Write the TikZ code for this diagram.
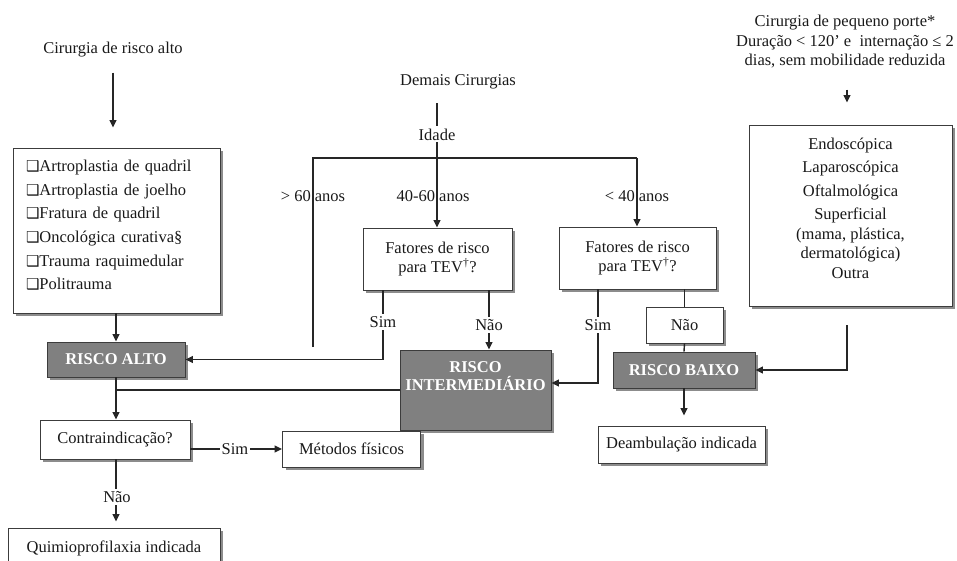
\documentclass[tikz,border=0pt]{standalone}
\usepackage{fontspec}
\setmainfont{Liberation Serif}
\newfontfamily\symfont{DejaVu Sans}
\usetikzlibrary{arrows.meta,shadows}
\definecolor{riskgray}{HTML}{808080}
\definecolor{edgegray}{HTML}{3C3C3C}
\newcommand{\cb}{{\symfont\fontsize{15}{15}\selectfont ❑}}

\begin{document}
\begin{tikzpicture}[x=1pt, y=-1pt,
  txt/.style={font=\fontsize{16.5}{19.5}\selectfont, text=black!90, inner sep=1pt},
  box/.style={draw=edgegray, line width=0.9pt, fill=white, inner sep=2pt,
              font=\fontsize{16.5}{19.5}\selectfont, text=black!90, align=center,
              drop shadow={shadow xshift=3pt, shadow yshift=-3pt, fill=black!45, opacity=1}},
  riskbox/.style={box, fill=riskgray, text=white, font=\fontsize{16.5}{18}\selectfont\bfseries},
  lbl/.style={txt, fill=white, inner sep=2pt},
  ln/.style={line width=1.4pt, draw=black!85},
  arr/.style={ln, -{Triangle[length=7.5pt, width=7pt]}},
]
\useasboundingbox (0,0) rectangle (957,561);
\clip (0,0) rectangle (957,561);

% titles
\node[txt] (alto) at (113,50) {Cirurgia de risco alto};
\node[txt] (demais) at (458,82) {Demais Cirurgias};
\node[txt] (idade) at (437,135) {Idade};
\node[txt, align=center] (pequenotit) at (845,42)
  {Cirurgia de pequeno porte*\\Duração < 120’ e \ internação ≤ 2\\dias, sem mobilidade reduzida};

% boxes
\node[box, align=left, text width=181pt, inner xsep=13pt, minimum height=165pt,
      font=\fontsize{16.5}{23.6}\selectfont] (grupo) at (116.5,230.5)
  {\cb Artroplastia de quadril\\ \cb Artroplastia de joelho\\ \cb Fratura de quadril\\
   \cb Oncológica curativa§\\ \cb Trauma raquimedular\\ \cb Politrauma\\[-12.5pt]\mbox{}};
\node[box, minimum width=149pt, minimum height=62pt] (fat1) at (437.5,259)
  {Fatores de risco\\para TEV\textsuperscript{†}?};
\node[box, minimum width=157pt, minimum height=62pt] (fat2) at (637.5,258)
  {Fatores de risco\\para TEV\textsuperscript{†}?};
\node[box, minimum width=203pt, minimum height=181pt] (pequeno) at (850.5,215.5)
  {Endoscópica\\[4pt] Laparoscópica\\[4pt] Oftalmológica\\[4pt] Superficial\\
   (mama, plástica,\\ dermatológica)\\ Outra\\[-4.5pt]\mbox{}};
\node[box, minimum width=77pt, minimum height=36pt] (naobox) at (684.5,325) {Não};

\node[riskbox, minimum width=138pt, minimum height=35pt] (riscoalto) at (116,359.5) {RISCO ALTO};
\node[riskbox, minimum width=151pt, minimum height=80pt] (intermed) at (475.5,390)
  {RISCO\\INTERMEDIÁRIO\\[10pt]\mbox{}};
\node[riskbox, minimum width=142pt, minimum height=36pt] (riscobaixo) at (684,370) {RISCO BAIXO};

\node[box, minimum width=150pt, minimum height=39pt] (contra) at (115,439.5) {Contraindicação?};
\node[box, minimum width=138pt, minimum height=36pt] (metodos) at (351.5,449) {Métodos físicos};
\node[box, minimum width=212pt, minimum height=40pt] (quimio) at (114,548) {Quimioprofilaxia indicada};
\node[box, minimum width=167pt, minimum height=37pt] (deamb) at (681.5,444.5) {Deambulação indicada};

% age branches
\coordinate (barL) at (313,158);
\coordinate (barR) at (637,158);
\coordinate (gt60end) at (313,347);

\draw[arr, shorten <=14pt, shorten >=20pt] (alto.south) -- (alto.south |- grupo.north);
\draw[arr] (riscoalto.north |- grupo.south) -- (riscoalto.north);
\draw[ln, shorten <=13pt, shorten >=2pt] (idade.north |- demais.south) -- (idade.north);
\draw[arr] (idade.south) -- (idade.south |- fat1.north);
\draw[ln] (gt60end) -- (barL) -- (barR);
\draw[arr] (barR) -- (barR |- fat2.north);

\draw[arr] ([xshift=-54.5pt]fat1.south) |- (riscoalto.east);
\draw[arr] ([xshift=51.5pt]fat1.south) -- ([xshift=51.5pt]fat1.south |- intermed.north);
\draw[arr] ([xshift=-39.5pt]fat2.south) |- ([yshift=7pt]intermed.east);
\draw[ln] (naobox.north |- fat2.south) -- (naobox.north);
\draw[ln] (naobox.south) -- (riscobaixo.north);

\draw[arr, shorten <=20pt, shorten >=22pt] ([xshift=2pt]pequenotit.south) -- ([xshift=2pt]pequenotit.south |- pequeno.north);
\draw[arr, shorten <=19pt] ([xshift=-3.5pt]pequeno.south) |- (riscobaixo.east);
\draw[arr, shorten >=10pt] (riscobaixo.south) -- (riscobaixo.south |- deamb.north);

\draw[ln] (intermed.west) -- (intermed.west -| riscoalto.south);
\draw[arr] (riscoalto.south) -- (riscoalto.south |- contra.north);
\draw[arr] (contra.east |- metodos.west) -- (metodos.west);
\draw[arr, shorten >=6pt] (riscoalto.south |- contra.south) -- (riscoalto.south |- quimio.north);

% labels
\node[txt] (gt60) at (313,196) {> 60 anos};
\node[txt] (age4060) at (433,196) {40-60 anos};
\node[txt] (lt40) at (637,196) {< 40 anos};
\node[lbl] (sim1) at (383,322) {Sim};
\node[lbl] (nao1) at (489,325) {Não};
\node[lbl] (sim2) at (598,325) {Sim};
\node[lbl] (sim3) at (235,449) {Sim};
\node[lbl] (nao2) at (117,497) {Não};

\end{tikzpicture}
\end{document}
